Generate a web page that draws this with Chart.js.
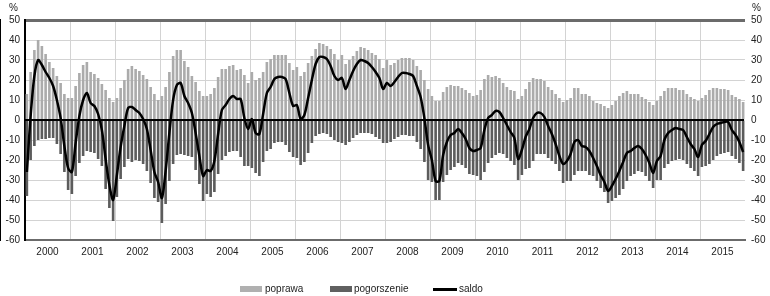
<!DOCTYPE html>
<html>
<head>
<meta charset="utf-8">
<script src="https://cdn.jsdelivr.net/npm/chart.js@4.4.1/dist/chart.umd.min.js"></script>
<style>
    html, body { margin: 0; padding: 0; background: #fff; }
    #wrap { position: relative; width: 770px; height: 296px; font-family: "Liberation Sans", Arial, sans-serif; color: #222; font-size: 10px; }
    #chart { position: absolute; left: 0; top: 0; }
    .pct { position: absolute; top: 2px; line-height: 12px; }
    .item { position: absolute; top: 283px; line-height: 12px; }
    .sw { position: absolute; }
</style>
</head>
<body>
<div id="wrap">
    <canvas id="chart" width="770" height="296"></canvas>
    <div class="pct" style="left:9px">%</div>
    <div class="pct" style="left:752px">%</div>
    <div class="sw" style="left:240px;top:286px;width:22px;height:6px;background:#b0b0b0"></div>
    <div class="item" style="left:265px">poprawa</div>
    <div class="sw" style="left:330px;top:286px;width:22px;height:6px;background:#606060"></div>
    <div class="item" style="left:354px">pogorszenie</div>
    <div class="sw" style="left:433px;top:288px;width:24px;height:3px;background:#000"></div>
    <div class="item" style="left:459px">saldo</div>
</div>
<script>
const years = [2000, 2001, 2002, 2003, 2004, 2005, 2006, 2007, 2008, 2009, 2010, 2011, 2012, 2013, 2014, 2015];

// monthly values, one row per year
const poprawa = [
    13, 24, 35, 40, 37, 33, 29, 26, 22, 18.5, 13, 11,
    11, 17, 23.5, 27.5, 29, 24, 23, 21, 18, 15, 11, 9,
    11, 16, 20, 25.5, 27, 25.5, 24.5, 22.5, 20.5, 16.5, 13, 10,
    12, 16.5, 24, 32, 35, 35, 29.5, 26.5, 22, 19, 14.5, 12,
    12, 13, 16, 21.5, 25.5, 25.5, 27, 27.5, 25, 25.5, 22.5, 18.5,
    24, 20, 21, 24, 29, 30.5, 32.5, 32.5, 32.5, 32.5, 28.5, 25,
    26.5, 22, 24, 28.5, 32, 35.5, 38.5, 38, 37, 35.5, 33, 30,
    32.5, 28, 30, 32, 34.5, 36.5, 36, 35, 33.5, 32.5, 30.5, 26,
    30, 27.5, 28.5, 30, 31, 31, 31, 30, 27, 25, 20, 15.5,
    12, 9.5, 9.5, 14, 16.5, 17.5, 17, 17, 16, 15, 13.5, 12,
    12.5, 15, 20.5, 22.5, 21.5, 22, 21, 18.5, 16.5, 15, 14.5, 10.5,
    12, 15.5, 19, 21, 20.5, 20.5, 19.5, 16.5, 15, 13, 11, 9,
    10, 11, 16, 16, 13, 13, 12, 9.5, 8.5, 8, 7, 6,
    7.5, 9.5, 12, 13.5, 14.5, 13, 13, 13, 11.5, 10.5, 9, 7.5,
    9.5, 12, 14.5, 16, 16, 16, 15, 15, 13, 11.5, 10.5, 9.5,
    11, 12.5, 15, 16, 16, 15.5, 15.5, 15, 12.5, 11.5, 10.5, 9,
];
const pogorszenie = [
    -38, -20, -13, -10, -9.5, -9.5, -9, -9, -12, -17, -26, -35,
    -37, -28, -21.5, -18, -15.5, -16, -16.5, -19.5, -23, -34.5, -44, -50.5,
    -38.5, -29.5, -23.5, -19.5, -21, -20, -20.5, -22, -25.5, -31.5, -39, -41,
    -51.5, -42, -30.5, -22, -17.5, -17, -17.5, -18, -18.5, -25, -32, -40.5,
    -37, -38.5, -36, -27, -20, -18, -16, -15.5, -15.5, -18.5, -23, -23,
    -24, -26.5, -28, -21, -15.5, -14.5, -11.5, -11, -11, -12.5, -16, -18.5,
    -19, -22.5, -21, -16.5, -11.5, -8, -7, -6.5, -7, -8.5, -10, -11,
    -11.5, -12.5, -11, -9, -7.5, -6.5, -6.5, -6.5, -7, -8.5, -9.5, -11.5,
    -11.5, -11, -9.5, -8.5, -7.5, -7.5, -8, -8, -11, -14.5, -21, -30,
    -31, -40, -40, -31, -27.5, -25, -23.5, -21.5, -22.5, -24, -27, -27.5,
    -28, -30, -26, -21.5, -19, -17.5, -16.5, -17, -19, -20.5, -22.5, -30,
    -27.5, -24.5, -24, -20.5, -17, -17, -17, -19, -20.5, -22, -25.5, -31.5,
    -30.5, -30.5, -27.5, -25.5, -25.5, -25.5, -27.5, -28, -30.5, -34, -36, -41.5,
    -40.5, -39, -37.5, -34.5, -30.5, -28, -27, -25.5, -26, -28, -30.5, -34,
    -30, -30, -24, -22, -20.5, -20, -19.5, -20, -22, -24, -25.5, -28,
    -23.5, -23, -22, -20, -18, -17, -16.5, -16, -18, -19.5, -21.5, -25.5,
];
const saldo = [
    -26, 2, 22, 30, 27.5, 24, 21, 17, 10, 1, -13, -24,
    -26, -11.5, 2, 10, 13.5, 8.5, 7, 3, -5, -19.5, -32.5, -40,
    -27.5, -13.5, -3, 6, 6.5, 5, 3.5, 0.5, -4.5, -15, -26, -31,
    -39, -25.5, -6.5, 10, 17.5, 18.5, 12, 8.5, 3.5, -6.5, -18, -28,
    -25, -25.5, -20.5, -7, 5, 7.5, 10.5, 12, 10.5, 10.5, 1, -4.5,
    0.5, -6.5, -7, 3, 13.5, 16.5, 20.5, 21.5, 21.5, 20.5, 13.5, 7,
    7.5, 0.5, 2.5, 11, 20, 28, 31.5, 31.5, 30.5, 27, 22, 20,
    21, 15.5, 20, 24.5, 28, 30, 29.5, 28.5, 26.5, 24, 21, 15.5,
    18.5, 17, 19, 21.5, 23.5, 23.5, 23, 22, 17, 11.5, 1, -12.5,
    -20, -30.5, -30.5, -17.5, -11, -7.5, -6.5, -4.5, -6.5, -9.5, -14, -15.5,
    -15, -14, -5, 1, 2.5, 4.5, 4, 1, -2.5, -6, -9, -19.5,
    -15, -8.5, -4.5, 1, 3.5, 3.5, 1.5, -3, -7, -12, -18, -22,
    -20.5, -17, -11, -10, -13, -13.5, -15.5, -19, -23, -27.5, -31, -35.5,
    -33, -29.5, -25.5, -21, -16.5, -15.5, -14, -13, -14.5, -17.5, -21.5, -26.5,
    -20.5, -18, -10, -6.5, -5, -4, -4.5, -5, -8.5, -12, -14.5, -18.5,
    -12.5, -10.5, -7, -3.5, -2, -1.5, -1, -1, -5, -7.5, -11, -16,
];
const yMin = -60, yMax = 50, yStep = 10;

const months = [];
years.forEach((y) => { for (let m = 1; m <= 12; m++) months.push(`${y}-${String(m).padStart(2, "0")}`); });

const GRID = "#d3d3d3";
const NONE = "rgba(0,0,0,0)";
const tickFont = { family: "'Liberation Sans', Arial, sans-serif", size: 10 };

new Chart(document.getElementById("chart"), {
    type: "bar",
    data: {
        labels: months,
        datasets: [
            { type: "line", label: "saldo", data: saldo, borderColor: "#000", borderWidth: 2.5, pointRadius: 0, tension: 0.3, yAxisID: "y" },
            { label: "poprawa", data: poprawa, backgroundColor: "#ababab", barPercentage: 0.7, categoryPercentage: 1, yAxisID: "y" },
            { label: "pogorszenie", data: pogorszenie, backgroundColor: "#5c5c5c", barPercentage: 0.7, categoryPercentage: 1, yAxisID: "y" },
        ],
    },
    options: {
        responsive: false,
        animation: false,
        layout: { padding: { top: 20, bottom: 36, left: 0, right: 0 } },
        plugins: { legend: { display: false }, tooltip: { enabled: false } },
        scales: {
            x: {
                stacked: true, offset: true,
                grid: { offset: true, drawTicks: false, color: (c) => (c.index > 0 && c.index % 12 === 0 ? GRID : NONE) },
                border: { color: "#6b6b6b", width: 2 },
                ticks: {
                    autoSkip: false, maxRotation: 0, minRotation: 0, padding: 6, labelOffset: -1.9,
                    color: "#222", font: tickFont,
                    callback: (v, i) => (i % 12 === 6 ? String(years[Math.floor(i / 12)]) : ""),
                },
                afterFit: (s) => { s.height = 20; },
            },
            y: {
                position: "left", min: yMin, max: yMax,
                ticks: { stepSize: yStep, padding: 5, color: "#222", font: tickFont },
                grid: {
                    drawTicks: false,
                    color: (c) => (c.tick.value === yMax ? "#6b6b6b" : c.tick.value === 0 ? NONE : GRID),
                    lineWidth: (c) => (c.tick.value === yMax ? 3 : 1),
                },
                border: { color: "#000", width: 2 },
                afterFit: (s) => { s.width = 25; },
            },
            y2: {
                position: "right", min: yMin, max: yMax,
                ticks: { stepSize: yStep, padding: 6, color: "#222", font: tickFont },
                grid: { z: 1, drawTicks: false, color: (c) => (c.tick.value === 0 ? "#000" : NONE), lineWidth: 2 },
                border: { color: "#000", width: 2 },
                afterFit: (s) => { s.width = 25; },
            },
        },
    },
});
</script>
</body>
</html>
